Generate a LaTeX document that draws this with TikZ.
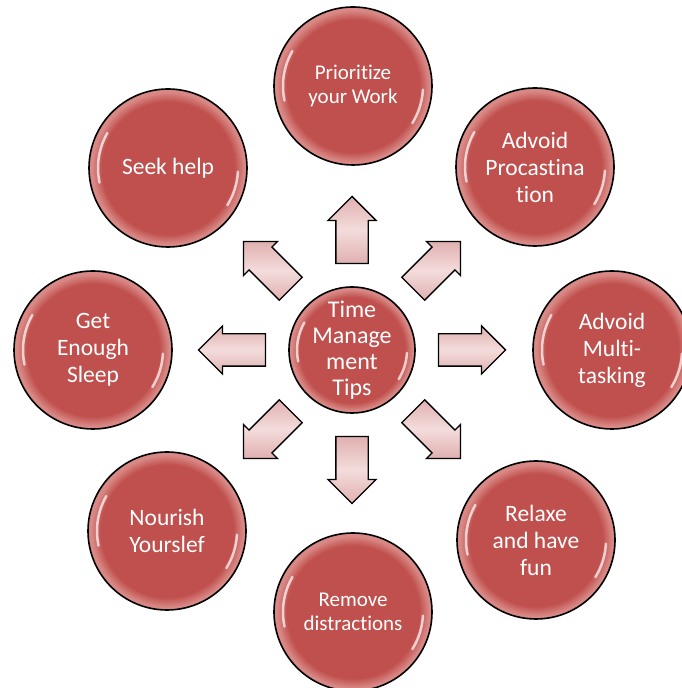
\documentclass[tikz,border=0pt]{standalone}
\usepackage{fontspec}
\setmainfont{Carlito}[Ligatures={NoCommon,NoContextual}]
\usetikzlibrary{shapes.arrows,calc}
\definecolor{tipred}{RGB}{192,80,77}
\definecolor{tiprim}{RGB}{216,136,133}
\definecolor{arrowpink}{RGB}{224,176,176}
\definecolor{arrowlight}{RGB}{244,220,220}
\pgfdeclareradialshading{tipglow}{\pgfpoint{0bp}{0bp}}{color(0bp)=(tipred); color(21bp)=(tipred); color(24bp)=(tiprim); color(25bp)=(tiprim); color(50bp)=(tiprim)}

\begin{document}
\begin{tikzpicture}[x=1pt,y=1pt,
    tip/.style={circle, draw=black, line width=1.6pt, shading=tipglow,
                minimum size=158pt, inner sep=0pt, text=white, align=center,
                font=\fontsize{23.5}{27}\selectfont},
    smalltip/.style={tip, font=\fontsize{21}{23.5}\selectfont},
    hub/.style={tip, minimum size=126pt, font=\fontsize{24}{26}\selectfont},
    tiparrow/.style={single arrow, draw=black, line width=1.3pt,
                minimum height=67pt, inner xsep=0pt, inner ysep=15.5pt,
                single arrow head extend=8pt,
                top color=arrowpink, bottom color=arrowpink, middle color=arrowlight},
    gloss/.style={white, opacity=.7, line width=2.5pt, line cap=round}]
  \useasboundingbox (0,0) rectangle (681,688);

  % centre and the eight tips
  \node[hub]      (tmt)   at (352,338) {Time\\Manage\\ment\\Tips};
  \node[smalltip] (prio)  at (353,602) {Prioritize\\your Work};
  \node[tip]      (procr) at (535,521) {Advoid\\Procastina\\tion};
  \node[tip]      (multi) at (612,338) {Advoid\\Multi-\\tasking};
  \node[tip]      (relax) at (536,148) {Relaxe\\and have\\fun};
  \node[smalltip] (distr) at (353,76)  {Remove\\distractions};
  \node[tip]      (nour)  at (167,157) {Nourish\\Yourslef};
  \node[tip]      (sleep) at (93,338)  {Get\\Enough\\Sleep};
  \node[tip]      (help)  at (168,520) {Seek help};

  % gloss on the balls
  \foreach \n/\r in {prio/70, procr/70, multi/70, relax/70, distr/70,
                     nour/70, sleep/70, help/70, tmt/55} {
    \draw[gloss] ([shift={(150:\r)}]\n.center) arc[start angle=150, end angle=192, radius=\r];
    \draw[gloss] ([shift={(-3:\r)}]\n.center) arc[start angle=-3, end angle=-32, radius=\r];
  }

  % arrows pointing outwards
  \foreach \a/\d [count=\i] in {90/112, 45/112, 0/112, -45/112,
                                -90/112, -135/112, 180/112, 135/112}
    \node[tiparrow, rotate=\a] (arr\i) at ($(tmt)+(\a:\d)$) {};

\end{tikzpicture}
\end{document}
